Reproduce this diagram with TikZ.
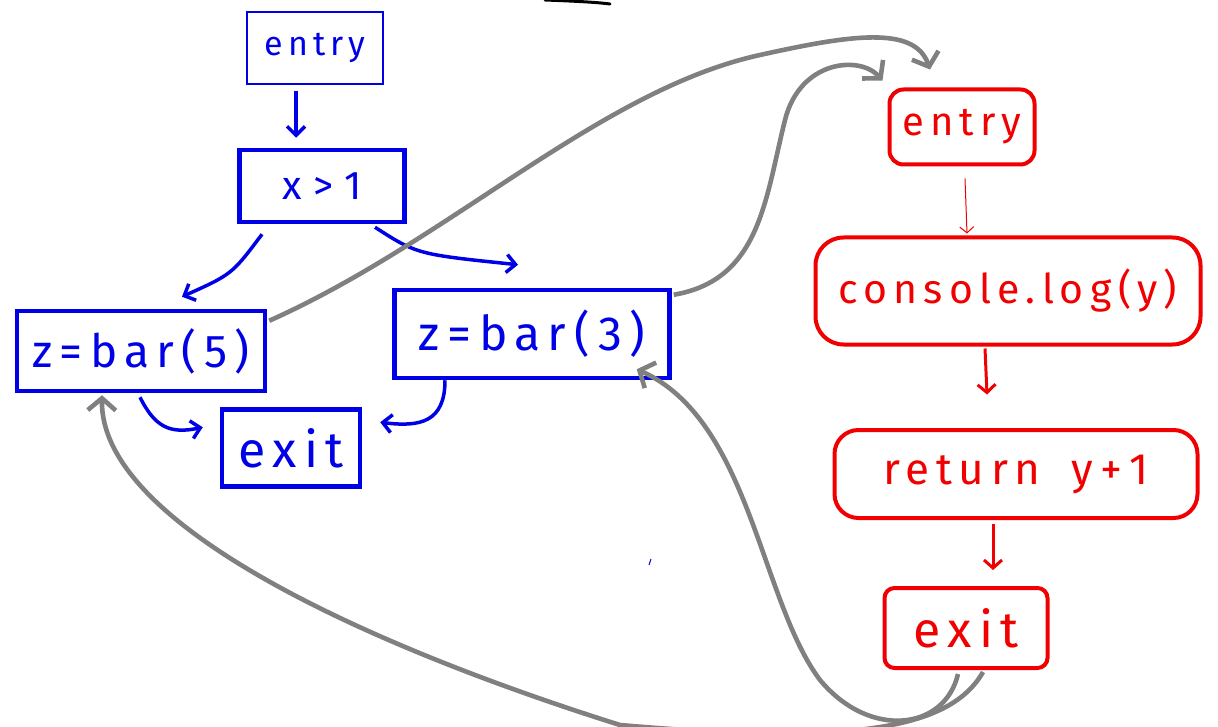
\documentclass[tikz,border=0pt]{standalone}
\usepackage{fontspec}
\newfontfamily\handfont[LetterSpace=15]{Fira Sans}
\usetikzlibrary{calc,arrows.meta}
\definecolor{hblue}{RGB}{0,0,230}
\definecolor{hred}{RGB}{240,0,0}
\definecolor{hgray}{RGB}{128,128,128}
\newcommand{\handsz}[1]{\handfont\fontsize{#1}{#1}\selectfont}
\tikzset{
  bbox/.style={draw=hblue, line width=4.5pt, text=hblue, inner sep=0pt},
  rbox/.style={draw=hred, line width=4pt, text=hred, inner sep=0pt, rounded corners=14pt},
  barrow/.style={draw=hblue, line width=3.5pt, -{Straight Barb[length=9pt,width=18pt,line width=3.5pt]}},
  rarrow/.style={draw=hred, line width=3pt, -{Straight Barb[length=8pt,width=18pt,line width=3pt]}},
  garrow/.style={draw=hgray, line width=4.6pt, -{Straight Barb[length=12pt,width=28pt,line width=4.6pt]}},
}
\begin{document}
\begin{tikzpicture}[x=1pt,y=-1pt]
\useasboundingbox (0,0) rectangle (1218,727);
% blue (caller) graph
\node[bbox, line width=2pt, minimum width=136pt, minimum height=72pt, font=\handsz{34}] (bentry) at (315,48) {entry};
\node[bbox, minimum width=165pt, minimum height=72pt, font=\handsz{40}] (bcond) at (322,186) {x\;>\;1};
\node[bbox, minimum width=248pt, minimum height=80pt, font=\handsz{46}] (bz5) at (141,351) {z\,=\,bar\,(\,5\,)};
\node[bbox, minimum width=275pt, minimum height=88pt, font=\handsz{48}] (bz3) at (532,334) {z\,=\,bar\,(\,3\,)};
\node[bbox, minimum width=138pt, minimum height=77pt, font=\handsz{50}] (bexit) at (291,448) {exit};
% red (callee) graph
\node[rbox, minimum width=145pt, minimum height=75pt, font=\handsz{40}] (rentry) at (962,127) {entry};
\node[rbox, minimum width=385pt, minimum height=107pt, rounded corners=28pt, font=\handsz{41}] (rlog) at (1008,291) {console.\,log\,(y)};
\node[rbox, minimum width=363pt, minimum height=88pt, rounded corners=24pt, font=\handsz{44}] (rret) at (1016,474) {return\; y\,+\,1};
\node[rbox, minimum width=163pt, minimum height=80pt, rounded corners=10pt, font=\handsz{50}] (rexit) at (966,628) {exit};
% blue edges
\draw[barrow] ($(bentry.south)+(-19,6)$) -- ($(bcond.north)+(-26,-10)$);
\draw[barrow] ($(bcond.south)+(-60,10)$) .. controls ($(bcond.south)+(-90,50)$) .. ($(bz5.north)+(41,-12)$);
\draw[barrow] ($(bcond.south)+(53,3)$) .. controls ($(bcond.south)+(95,30)$) .. ($(bz3.north)+(-14,-23)$);
\draw[barrow] ($(bz5.south)+(-1,4)$) .. controls ($(bz5.south)+(14,34)$) and ($(bz5.south)+(29,41)$) .. ($(bexit.north west)+(-17,20)$);
\draw[barrow] ($(bz3.south)+(-87,0)$) .. controls ($(bz3.south)+(-87,42)$) and ($(bz3.south)+(-112,47)$) .. ($(bexit.north east)+(18,15)$);
% red edges
\draw[rarrow, line width=1pt, -{Straight Barb[length=6pt,width=14pt,line width=1pt]}] ($(rentry.south)+(3,12)$) -- ($(rentry.south)+(5,67)$);
\draw[rarrow] ($(rlog.south)+(-23,2)$) -- ($(rlog.south)+(-21,48)$);
\draw[rarrow] ($(rret.south)+(-23,4)$) -- ($(rret.south)+(-23,50)$);
% gray call / return edges
\draw[garrow] ($(bz5.north east)+(2,12)$) .. controls (450,240) and (600,90) .. (760,55)
  .. controls (850,35) and (915,25) .. ($(rentry.north)+(-32,-18)$);
\draw[garrow] ($(bz3.north east)+(2,7)$) .. controls (760,280) and (765,200) .. (785,120)
  .. controls (800,60) and (860,55) .. ($(rentry.north west)+(-5,-7)$);
\draw[garrow] ($(rexit.south)+(-8,4)$) .. controls (945,730) and (870,740) .. (820,680)
  .. controls (760,600) and (750,420) .. ($(bz3.south east)+(-35,-11)$);
\draw[garrow] ($(rexit.south)+(17,2)$) .. controls (950,730) and (850,745) .. (620,725)
  .. controls (350,640) and (100,520) .. ($(bz5.south)+(-39,2)$);
% stray pen marks
\draw[black, line width=3pt, line cap=round] (545,0) .. controls (570,1) and (595,2) .. (610,4);
\draw[hblue, line width=1pt] (651,559) -- (649,565);
\end{tikzpicture}
\end{document}
